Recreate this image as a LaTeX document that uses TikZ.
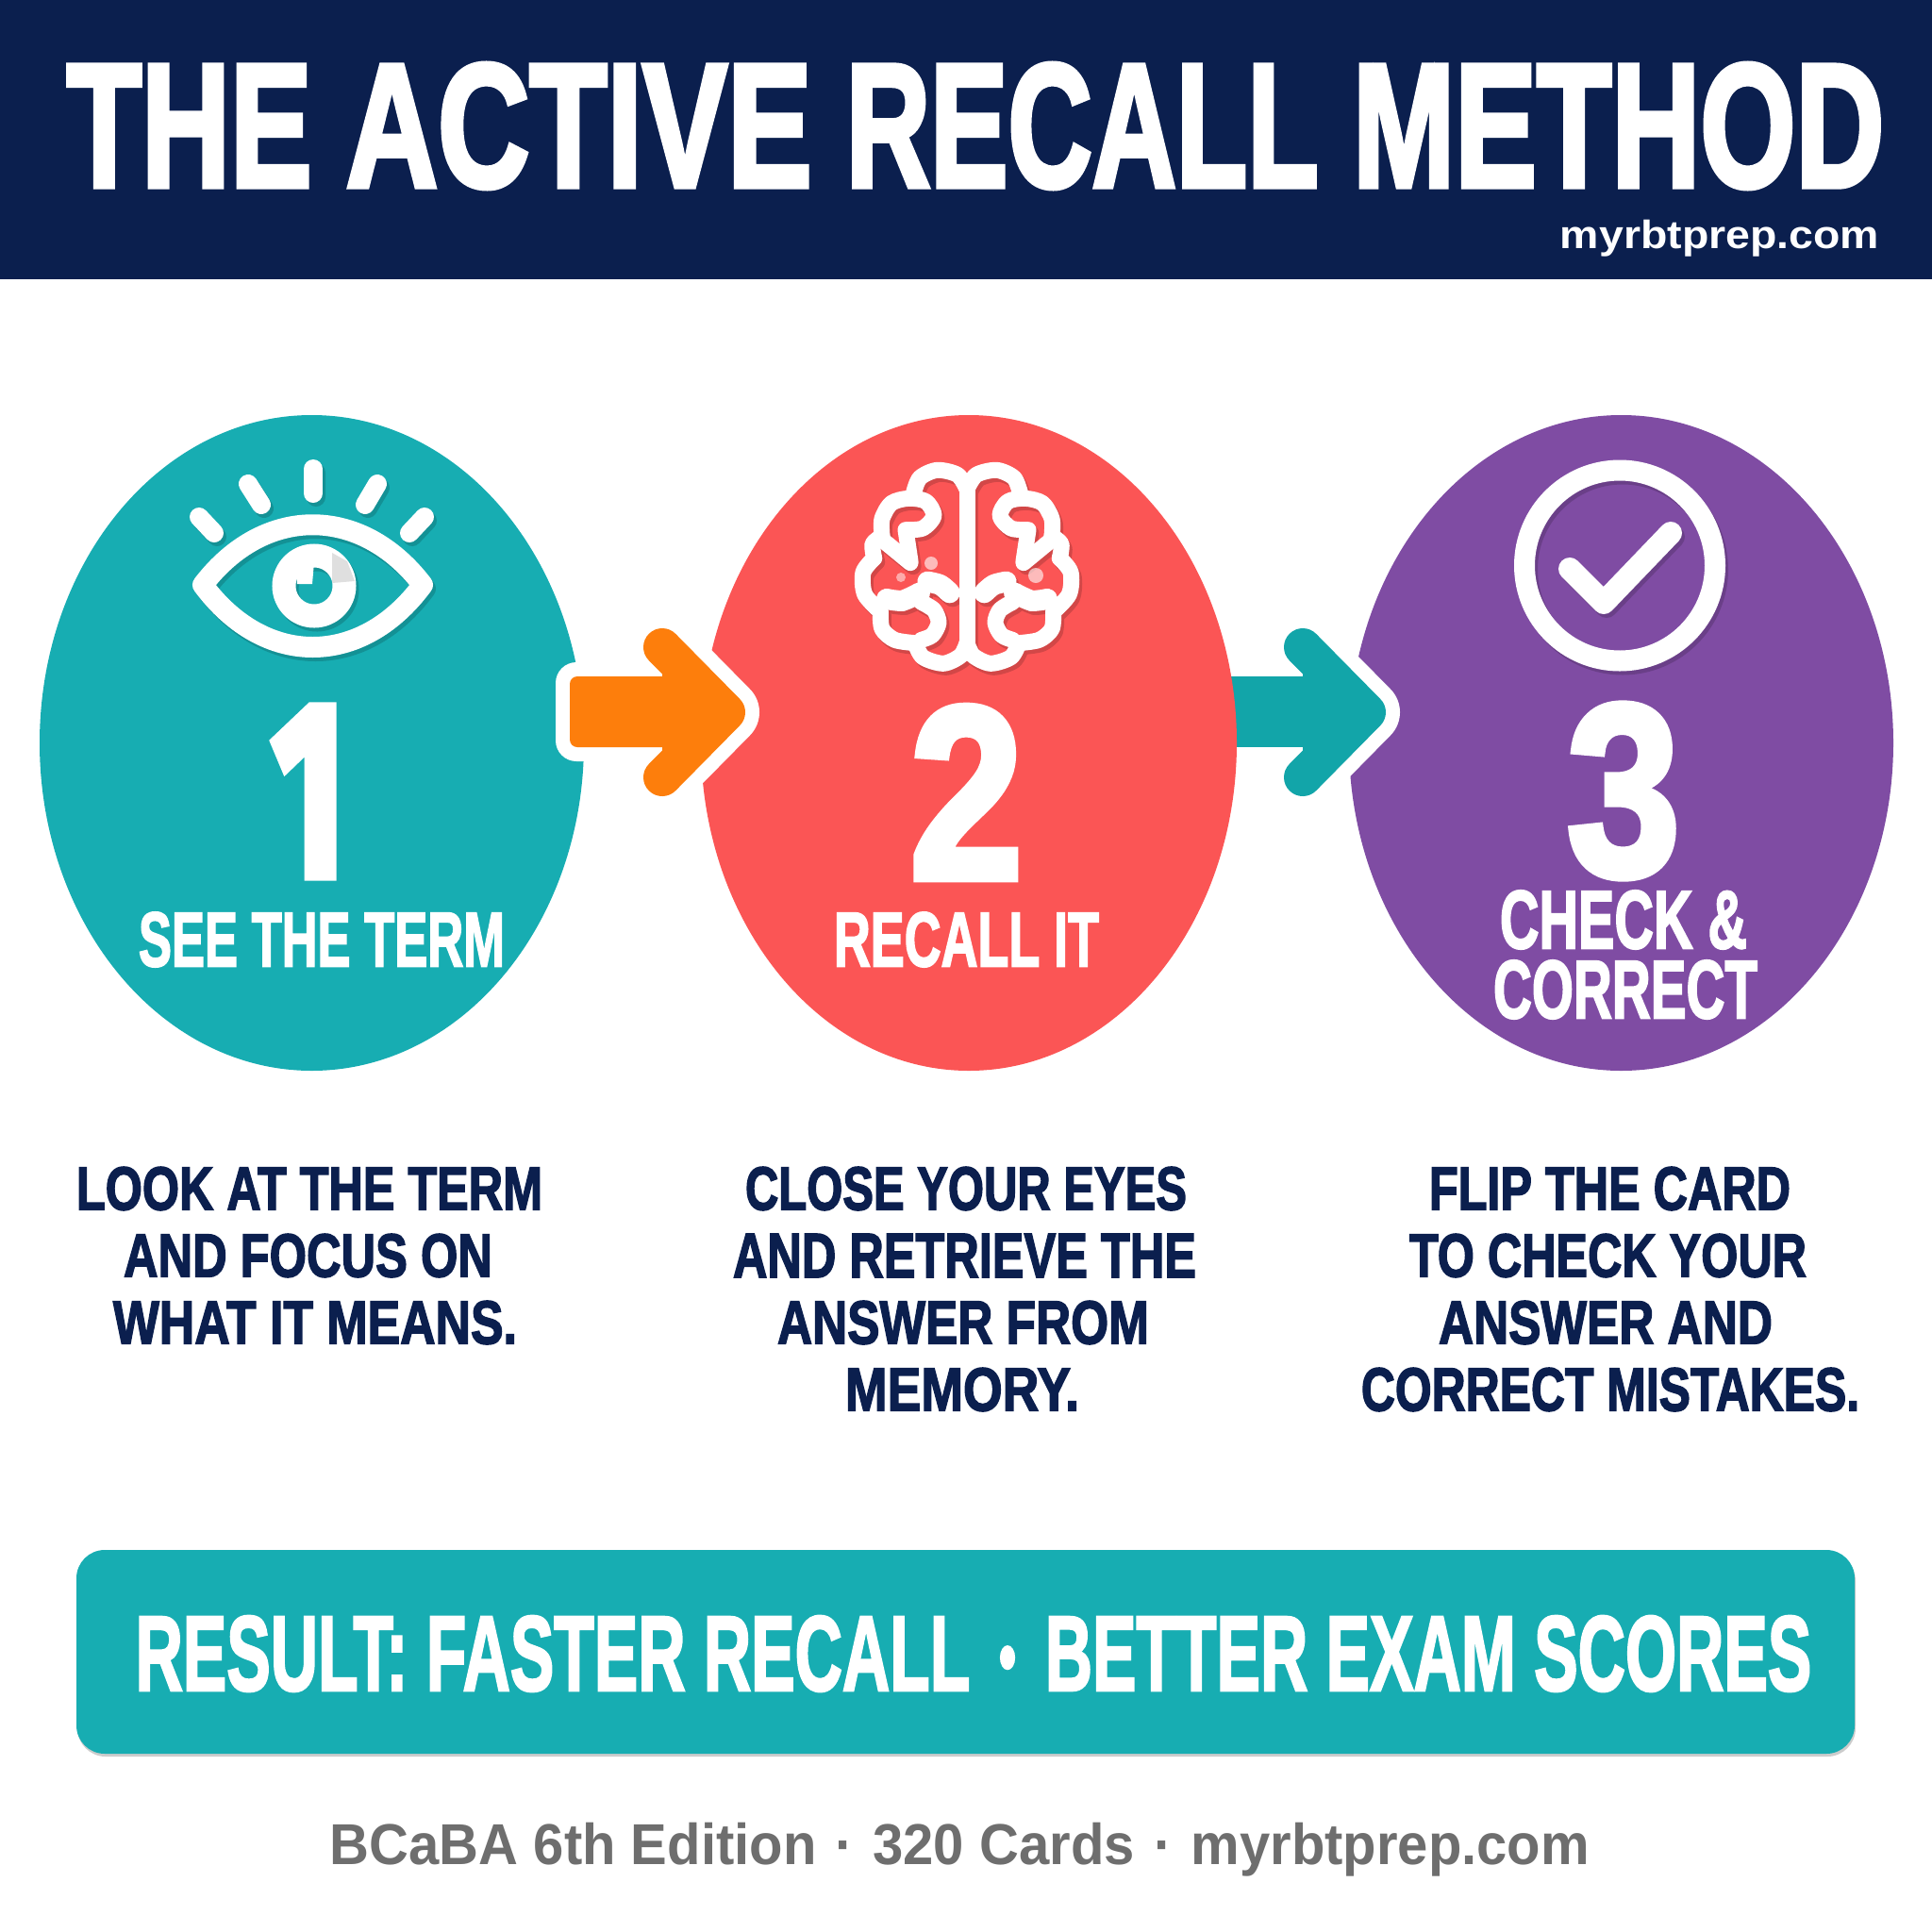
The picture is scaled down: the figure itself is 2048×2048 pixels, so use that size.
\documentclass[tikz,border=0pt]{standalone}
\usepackage{graphicx}
\usepackage{fontspec}
\setmainfont{Liberation Sans}
\newfontfamily\heavyfont{Liberation Sans}[UprightFont={* Bold}, FakeBold=2.5]
\newfontfamily\titlefont{Liberation Sans}[UprightFont={* Bold}, FakeBold=3.2, Kerning=Off]
\newfontfamily\numfont{Fira Sans}[UprightFont={* Bold}, FakeBold=5]
\usetikzlibrary{shapes.geometric,shadows}
\definecolor{navy}{HTML}{0B1F4E}
\definecolor{tealstep}{HTML}{17ADB2}
\definecolor{tealarrow}{HTML}{12A5A9}
\definecolor{redstep}{HTML}{FB5555}
\definecolor{purplestep}{HTML}{7F4CA3}
\definecolor{orangearrow}{HTML}{FD7E0C}
\definecolor{footgray}{HTML}{6E6E6E}
\colorlet{iconcol}{white}
\newcommand{\fit}[3]{\resizebox*{#1pt}{#2pt}{#3}}
\newcommand{\steparrow}[2]{%
	\draw[white, fill=white, line width=70pt, line join=round, line cap=round] (#1+702, 686)--(#1+770, 755)--(#1+702, 824);
	\draw[#2, fill=#2, line width=40pt, line join=round, line cap=round] (#1+702, 686)--(#1+770, 755)--(#1+702, 824);
}
\tikzset{
	oval/.style={ellipse, inner sep=0pt, minimum width=#1pt, minimum height=695pt},
	lbl/.style={inner sep=0pt, text=white, font=\heavyfont},
	num/.style={inner sep=0pt, text=white, font=\titlefont},
	body/.style={inner sep=0pt, text=navy, font=\heavyfont},
	icon/.style={iconcol, line width=22pt, line cap=round, line join=round}
}
% eye, brain and check mark, drawn once for the shadow and once in white
\newcommand{\iconset}{%
	\draw[icon] (215, 620) .. controls (280, 535) and (383, 535) .. (448, 620) .. controls (383, 708) and (280, 708) .. cycle;
	\draw[iconcol, line width=25pt] (333, 621) circle (32);
	\foreach \a/\b/\c/\d in {332/497/332/523, 263/513/277/535, 400/513/387/535, 211/548/227/565, 450/548/434/565}
		\draw[iconcol, line width=20pt, line cap=round] (\a, \b) -- (\c, \d);
	\foreach \s in {1, -1} {
		\begin{scope}[shift={(1025, 460)}, scale=.3333, xscale=\s, iconcol, line width=17pt, line cap=round, line join=round]
			\draw plot[smooth] coordinates {(0, 175) (-30, 130) (-95, 115) (-150, 140) (-170, 190)};
			\draw (-180, 405) -- (-195, 305) plot[smooth] coordinates {(-195, 305) (-140, 300) (-105, 260) (-130, 215) (-185, 205) (-240, 220) (-270, 270) (-270, 325)};
			\draw (-265, 340) -- (-180, 410);
			\draw plot[smooth] coordinates {(-270, 325) (-300, 350) (-295, 395)};
			\draw plot[smooth] coordinates {(-295, 395) (-330, 440) (-325, 510) (-275, 565)};
			\draw plot[smooth] coordinates {(-275, 565) (-270, 620) (-230, 655) (-165, 665)};
			\draw plot[smooth] coordinates {(-165, 665) (-140, 710) (-75, 730) (-20, 705) (0, 665)};
			\draw plot[smooth] coordinates {(-145, 535) (-105, 560) (-90, 600) (-110, 640) (-145, 655)};
			\draw[line width=22pt] plot[smooth] coordinates {(-125, 470) (-85, 480) (-55, 505)};
			\draw[line width=22pt] plot[smooth] coordinates {(-255, 525) (-205, 530) (-150, 505)};
			\fill (-205, 540) circle (24);
			\draw (0, 175) -- (0, 665);
		\end{scope}
	}
	\draw[icon] (1717, 599.5) circle (101);
	\draw[iconcol, line width=24pt, line cap=round, line join=round] (1664, 603) -- (1700, 639) -- (1771, 565);
}
\begin{document}
\begin{tikzpicture}[x=1pt, y=-1pt]
	\useasboundingbox (0, 0) rectangle (2048, 2048);
	\fill[navy] (0, 0) rectangle (2048, 296);
	\node[inner sep=0pt, text=white, font=\titlefont] (title) at (1034, 133.5) {\fit{1926}{132}{THE \scalebox{1.036}[1]{ACTIVE} \scalebox{.95}[1]{RECALL} METHOD}};
	\node[inner sep=0pt, text=white, font=\bfseries] (urltop) at (1823, 252.5) {\fit{338}{39}{myrbtprep.com}};
	% third step first, the teal arrow lies between it and the red one
	\node[oval=577, fill=purplestep] (check) at (1718.5, 787.5) {};
	\steparrow{679}{tealarrow}
	\fill[tealarrow] (1290, 717) rectangle (1390, 792);
	\node[oval=568, fill=redstep] (recall) at (1027, 787.5) {};
	\node[oval=577, fill=tealstep] (see) at (330.5, 787.5) {};
	\fill[white, rounded corners=22pt] (589, 702) rectangle (720, 807);
	\steparrow{0}{orangearrow}
	\fill[orangearrow, rounded corners=8pt] (604, 717) rectangle (720, 792);
	% icons
	\begin{scope}[transparency group, opacity=.16, shift={(3, 4)}]
		\colorlet{iconcol}{black}
		\iconset
	\end{scope}
	\iconset
	\fill[white] (314, 598) -- (333, 596) -- (331, 619) -- (315, 619) -- cycle;
	\fill[gray, opacity=.25] (352, 586) -- (368, 595) -- (376, 616) -- (352, 618) -- cycle;
	\fill[white, opacity=.6] (987, 597) circle (7);
	\fill[white, opacity=.5] (955, 612) circle (5);
	\fill[white, opacity=.6] (1098, 610) circle (8);
	% numbers and step names
	\node[num, font=\numfont] (one) at (327.5, 839) {\fit{77}{176}{1}};
	\node[num] (two) at (1024.5, 840) {\fit{120}{182}{2}};
	\node[num] (three) at (1721, 838.5) {\fit{120}{184}{3}};
	\node[lbl] (seeterm) at (341, 996) {\fit{388}{58}{SEE THE TERM}};
	\node[lbl] (recallit) at (1024.5, 996) {\fit{281}{58}{RECALL IT}};
	\node[lbl] (checkand) at (1721, 975) {\fit{262}{62}{CHECK \&}};
	\node[lbl] (correct) at (1723, 1049) {\fit{280}{62}{CORRECT}};
	% text below the steps
	\node[body] (lookA) at (328, 1260) {\fit{494}{46}{LOOK AT THE TERM}};
	\node[body] (lookB) at (326.5, 1331) {\fit{391}{46}{AND FOCUS ON}};
	\node[body] (lookC) at (334, 1402) {\fit{428}{46}{WHAT IT MEANS.}};
	\node[body] (closeA) at (1024, 1260) {\fit{468}{46}{CLOSE YOUR EYES}};
	\node[body] (closeB) at (1022.5, 1331) {\fit{491}{46}{AND RETRIEVE THE}};
	\node[body] (closeC) at (1021, 1402) {\fit{394}{46}{ANSWER FROM}};
	\node[body] (closeD) at (1020, 1473) {\fit{248}{46}{MEMORY.}};
	\node[body] (flipA) at (1706.5, 1260) {\fit{383}{46}{FLIP THE CARD}};
	\node[body] (flipB) at (1704.5, 1331) {\fit{421}{46}{TO CHECK YOUR}};
	\node[body] (flipC) at (1702, 1402) {\fit{354}{46}{ANSWER AND}};
	\node[body] (flipD) at (1707, 1473) {\fit{528}{46}{CORRECT MISTAKES.}};
	% result bar and footer
	\node[inner sep=0pt, minimum width=1885pt, minimum height=216pt, fill=tealstep, rounded corners=30pt,
		drop shadow={shadow xshift=1pt, shadow yshift=-3pt, opacity=.2, fill=black}] (bar) at (1023.5, 1751) {};
	\node[lbl] (result) at (1032, 1753) {\fit{1776}{80}{RESULT: FASTER RECALL\hspace{.45em}{\numfont·}\hspace{.45em}BETTER EXAM SCORES}};
	\node[inner sep=0pt, text=footgray, font=\bfseries] (foot) at (1017.5, 1960.5) {\fit{1335}{57}{BCaBA 6th Edition\hspace{.35em}·\hspace{.35em}320 Cards\hspace{.35em}·\hspace{.35em}myrbtprep.com}};
\end{tikzpicture}
\end{document}
